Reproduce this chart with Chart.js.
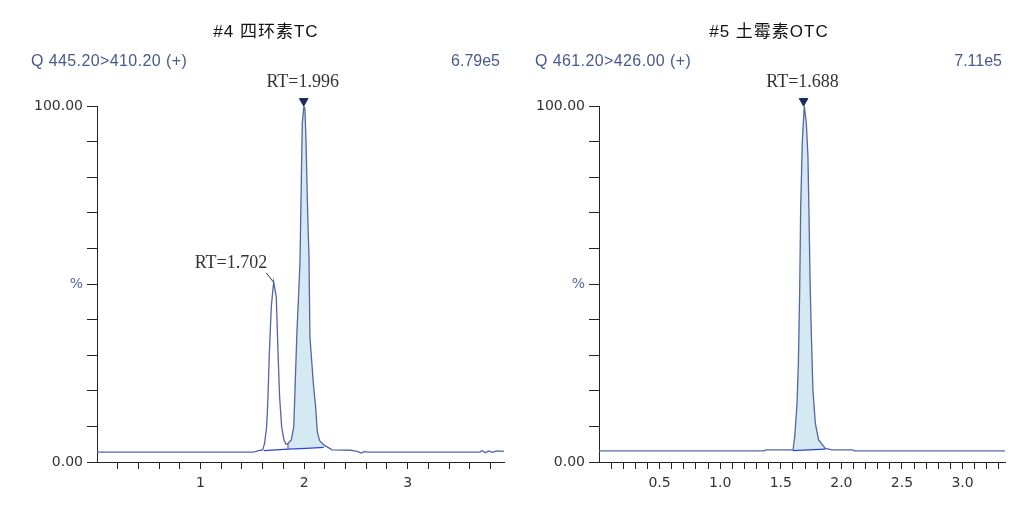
<!DOCTYPE html>
<html>
<head>
<meta charset="utf-8">
<script src="https://cdn.jsdelivr.net/npm/chart.js@4.4.0/dist/chart.umd.min.js"></script>
<style>
body { margin: 0; background: #fff; }
.panel { position: absolute; top: 0; width: 517px; height: 508px; }
</style>
</head>
<body>
<div class="panel" style="left:0"><canvas id="chartTC"></canvas></div>
<div class="panel" style="left:517px"><canvas id="chartOTC"></canvas></div>
<script>
// #4 TC, Q 445.20>410.20, retention time (min) vs relative intensity (%)
const tcTime = [0, 1.50, 1.53, 1.56, 1.60, 1.618, 1.638, 1.650, 1.664, 1.683, 1.706, 1.731, 1.747, 1.763, 1.783, 1.805, 1.825, 1.844,
    1.876, 1.90, 1.93, 1.96, 1.973, 1.982, 1.998, 2.008, 2.018, 2.031, 2.040, 2.047, 2.056, 2.089, 2.111, 2.127, 2.15, 2.19,
    2.27, 2.45, 2.52, 2.55, 2.58, 2.62, 3.70, 3.72, 3.75, 3.78, 3.82, 3.86, 3.93];
const tcPct = [2.8, 2.8, 2.9, 3.2, 3.4, 5.2, 9.9, 17.4, 30.5, 43.6, 50.6, 46.4, 31.5, 18.4, 9.9, 6.2, 5.0, 5.2,
    6.2, 9.9, 36.1, 55.8, 79.2, 95.1, 100, 98.9, 90.4, 73.6, 64.0, 57.7, 35.2, 22.1, 15.5, 8.5, 6.0, 4.8,
    3.4, 3.3, 2.9, 2.5, 2.9, 2.8, 2.8, 3.2, 2.6, 3.1, 2.7, 3.1, 3.0];
const tcPeakRT = [1.996, 1.702];
const tcPeakPct = [100, 50.6];
const tcBaseTime = [1.61, 1.844, 2.19];   // integration baseline
const tcBasePct = [3.2, 3.6, 4.1];
const tcShade = [1.844, 2.19];             // integrated (shaded) peak range

// #5 OTC, Q 461.20>426.00
const otcTime = [0, 1.36, 1.38, 1.58, 1.601, 1.615, 1.634, 1.645, 1.656, 1.664, 1.678, 1.694, 1.711, 1.724, 1.733, 1.741,
    1.749, 1.765, 1.785, 1.812, 1.867, 1.922, 2.09, 2.11, 3.35];
const otcPct = [3.1, 3.1, 3.4, 3.4, 3.4, 7.1, 16.5, 27.7, 48.3, 71.3, 90.4, 100, 95.1, 85.8, 68.9, 52.1,
    39.9, 20.2, 10.9, 6.2, 3.8, 3.4, 3.4, 3.1, 3.1];
const otcPeakRT = [1.688];
const otcPeakPct = [100];
const otcBaseTime = [1.601, 1.867];
const otcBasePct = [3.2, 3.6];
const otcShade = [1.601, 1.867];

const traceColor = '#5565a5';
const axisColor = '#222';

const pts = (xs, ys) => xs.map((x, i) => ({ x: x, y: ys[i] }));

const chromLabels = {
    id: 'chromLabels',
    afterDraw(chart, args, opts) {
        const ctx = chart.ctx;
        const xs = chart.scales.x, ys = chart.scales.y;
        ctx.save();
        ctx.textBaseline = 'middle';

        ctx.font = '17px "Liberation Sans", "Noto Sans CJK SC"';
        ctx.letterSpacing = '1px';
        ctx.fillStyle = '#111';
        ctx.textAlign = 'center';
        ctx.fillText(opts.title, opts.titleX, 32);

        ctx.font = '16px "Liberation Sans"';
        ctx.letterSpacing = '0.4px';
        ctx.fillStyle = '#4a5890';
        ctx.textAlign = 'left';
        ctx.fillText(opts.transition, opts.transX, 62);
        ctx.letterSpacing = '0px';
        ctx.textAlign = 'right';
        ctx.fillText(opts.maxSignal, opts.signalX, 62);

        ctx.font = '18px "Liberation Serif"';
        ctx.fillStyle = '#333';
        opts.peakRT.forEach((rt, i) => {
            const px = xs.getPixelForValue(rt);
            const py = ys.getPixelForValue(opts.peakPct[i]);
            const txt = 'RT=' + rt.toFixed(3);
            if (i === 0) {
                ctx.textAlign = 'center';
                ctx.fillText(txt, px - 1, py - 24);
            } else {
                ctx.textAlign = 'right';
                ctx.fillText(txt, px - 6, py - 19);
                ctx.strokeStyle = '#333';
                ctx.lineWidth = 1;
                ctx.beginPath();
                ctx.moveTo(px - 7, py - 9);
                ctx.lineTo(px, py);
                ctx.stroke();
            }
        });
        ctx.restore();
    }
};

function makeChart(id, d) {
    const shadePts = pts(d.time, d.pct).filter(p => p.x >= d.shade[0] && p.x <= d.shade[1]);
    const base = pts(d.baseTime, d.basePct);
    const shadeBase = base.filter(p => p.x >= d.shade[0] && p.x <= d.shade[1]);
    const valley = shadePts[0];
    const datasets = [
        { data: pts(d.time, d.pct), borderColor: traceColor, borderWidth: 1.3, order: 1 },
        { data: shadePts, borderWidth: 0, backgroundColor: '#d4e9f1', fill: 2, order: 6 },
        { data: shadeBase, borderColor: '#2a44e0', borderWidth: 1.3, order: 2 },
        { data: base.filter(p => p.x <= d.shade[0]), borderColor: '#2a44e0', borderWidth: 1.3, order: 2 },
        { data: [shadeBase[0], valley], borderColor: '#3a4a90', borderWidth: 1, order: 2 },
        { data: [{ x: d.peakRT[0], y: d.peakPct[0] + 1.4 }], showLine: false, pointRadius: 5, pointStyle: 'triangle',
          rotation: 180, backgroundColor: '#1c2a5e', borderColor: '#1c2a5e', clip: false, order: 0 }
    ];
    return new Chart(document.getElementById(id), {
        type: 'line',
        data: { datasets: datasets },
        options: {
            responsive: true,
            maintainAspectRatio: false,
            animation: false,
            layout: { padding: { top: 106, left: 0, right: d.padRight, bottom: 0 } },
            elements: { point: { radius: 0 }, line: { tension: 0.0001 } },
            plugins: {
                legend: { display: false },
                tooltip: { enabled: false },
                chromLabels: {
                    title: d.title, titleX: d.titleX,
                    transition: d.transition, transX: d.transX,
                    maxSignal: d.maxSignal, signalX: d.signalX,
                    peakRT: d.peakRT, peakPct: d.peakPct
                }
            },
            scales: {
                x: {
                    type: 'linear', min: 0, max: d.xMax,
                    afterFit: s => { s.height = 46; },
                    border: { color: axisColor, width: 1 },
                    grid: { drawOnChartArea: false, tickLength: 7, color: c => c.tick && c.tick.value === 0 ? 'rgba(0,0,0,0)' : axisColor },
                    ticks: {
                        stepSize: d.xStep, autoSkip: false, includeBounds: false, maxRotation: 0, padding: 6,
                        color: '#333', font: { family: 'DejaVu Sans', size: 14 },
                        callback: v => {
                            const k = Math.round(v / d.xLabelStep);
                            return (v > 0.001 && Math.abs(v - k * d.xLabelStep) < 1e-6) ? d.fmt(v) : '';
                        }
                    }
                },
                y: {
                    min: 0, max: 100,
                    afterFit: s => { s.width = d.yWidth; },
                    border: { color: axisColor, width: 1 },
                    grid: { drawOnChartArea: false, tickLength: 10, color: axisColor },
                    ticks: {
                        stepSize: 10, autoSkip: false, padding: 4,
                        color: c => c.tick && c.tick.value === 50 ? '#5a6898' : '#333',
                        font: { family: 'DejaVu Sans', size: 14 },
                        callback: v => v === 100 ? '100.00' : v === 0 ? '0.00' : v === 50 ? '%' : ''
                    }
                }
            }
        },
        plugins: [chromLabels]
    });
}

makeChart('chartTC', {
    time: tcTime, pct: tcPct, peakRT: tcPeakRT, peakPct: tcPeakPct,
    baseTime: tcBaseTime, basePct: tcBasePct, shade: tcShade,
    title: '#4 四环素TC', titleX: 266, transition: 'Q 445.20>410.20 (+)', transX: 31,
    maxSignal: '6.79e5', signalX: 500,
    xMax: 3.93, xStep: 0.2, xLabelStep: 1, fmt: v => String(Math.round(v)),
    yWidth: 97, padRight: 13
});

makeChart('chartOTC', {
    time: otcTime, pct: otcPct, peakRT: otcPeakRT, peakPct: otcPeakPct,
    baseTime: otcBaseTime, basePct: otcBasePct, shade: otcShade,
    title: '#5 土霉素OTC', titleX: 252, transition: 'Q 461.20>426.00 (+)', transX: 18,
    maxSignal: '7.11e5', signalX: 485,
    xMax: 3.35, xStep: 0.1, xLabelStep: 0.5, fmt: v => v.toFixed(1),
    yWidth: 82, padRight: 29
});
</script>
</body>
</html>
